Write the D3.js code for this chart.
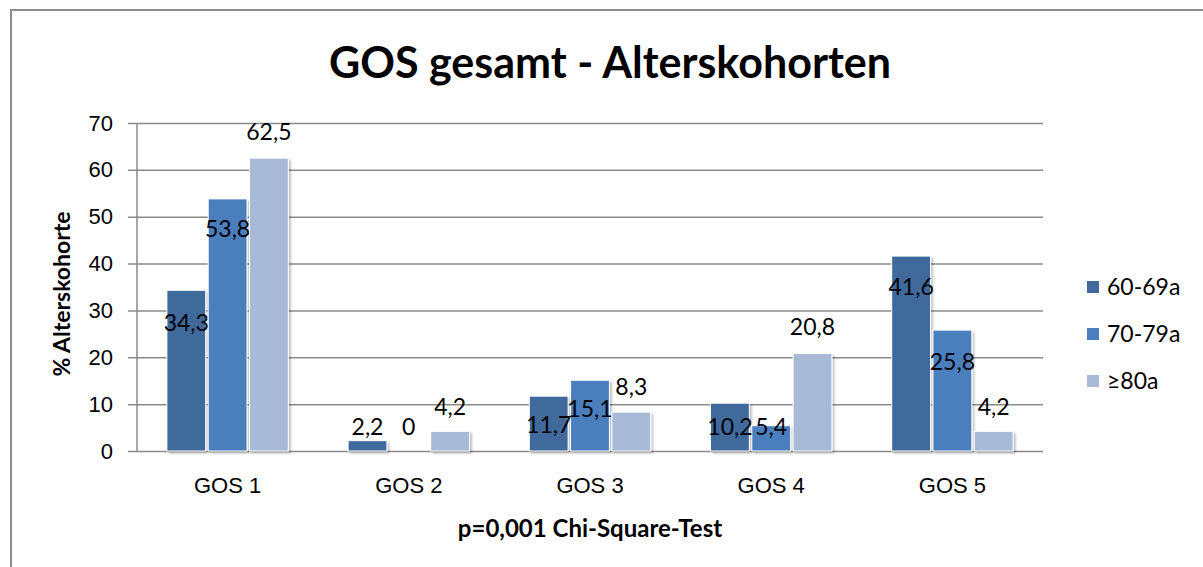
<!DOCTYPE html>
<html>
<head>
<meta charset="utf-8">
<script src="https://cdn.jsdelivr.net/npm/d3@7"></script>
<style>
  html, body { margin: 0; padding: 0; background: #fff; }
  svg { display: block; font-family: Lato, sans-serif; }
</style>
</head>
<body>
<div id="chart"></div>
<script>
var categories = ['GOS 1', 'GOS 2', 'GOS 3', 'GOS 4', 'GOS 5'];
var seriesNames = ['60-69a', '70-79a', '\u226580a'];
var values6069 = [34.3, 2.2, 11.7, 10.2, 41.6];
var values7079 = [53.8, 0, 15.1, 5.4, 25.8];
var values80 = [62.5, 4.2, 8.3, 20.8, 4.2];
var yTicks = [0, 10, 20, 30, 40, 50, 60, 70];

var colors = ['#41699c', '#4b7ebc', '#a9bad9'];
// label offset from bar top in px (negative = above the bar)
var labelDy = [
  [32, -14, 29, 24, 31],
  [30, -24, 28, 1, 32],
  [-26, -25, -25, -27, -25]
];

var W = 1203, H = 567;
var plot = { left: 137, right: 1043, top: 123, bottom: 451 };

drawChart();

function drawChart() {
  var series = [values6069, values7079, values80];

  var svg = d3.select('#chart')
    .append('svg')
    .attr('width', W)
    .attr('height', H);

  // bar shadow
  var filter = svg.append('defs')
    .append('filter')
    .attr('id', 'shadow')
    .attr('x', '-20%').attr('y', '-20%')
    .attr('width', '150%').attr('height', '150%');
  filter.append('feGaussianBlur')
    .attr('in', 'SourceAlpha')
    .attr('stdDeviation', 1.2)
    .attr('result', 'blur');
  filter.append('feOffset')
    .attr('in', 'blur')
    .attr('dx', 1.5)
    .attr('dy', 1.5)
    .attr('result', 'offsetBlur');
  filter.append('feComponentTransfer')
    .attr('in', 'offsetBlur')
    .attr('result', 'fadeBlur')
    .append('feFuncA')
    .attr('type', 'linear')
    .attr('slope', 0.25);
  var feMerge = filter.append('feMerge');
  feMerge.append('feMergeNode').attr('in', 'fadeBlur');
  feMerge.append('feMergeNode').attr('in', 'SourceGraphic');

  // outer frame
  svg.append('rect')
    .attr('x', 11)
    .attr('y', 10)
    .attr('width', W)
    .attr('height', H)
    .style('fill', 'none')
    .style('stroke', '#8c8c8c')
    .style('stroke-width', 2);

  var x0 = d3.scaleBand()
    .domain(categories)
    .range([plot.left, plot.right])
    .paddingInner(0.33)
    .paddingOuter(0.165);

  var x1 = d3.scaleBand()
    .domain(d3.range(seriesNames.length))
    .range([0, x0.bandwidth()])
    .paddingInner(0.06);

  var y = d3.scaleLinear()
    .domain([0, 70])
    .range([plot.bottom, plot.top]);

  // gridlines + y axis
  var yAxis = d3.axisLeft(y)
    .tickValues(yTicks)
    .tickSize(-(plot.right - plot.left))
    .tickPadding(24)
    .tickFormat(d3.format('d'));

  var gy = svg.append('g')
    .attr('transform', 'translate(' + plot.left + ',0)')
    .call(yAxis);
  gy.select('.domain').remove();
  gy.selectAll('.tick line')
    .attr('x1', -9)
    .style('stroke', '#8a8a8a')
    .style('stroke-width', 1.5);
  gy.selectAll('.tick text')
    .style('font-size', '22px')
    .style('fill', '#000');

  svg.append('line')
    .attr('x1', plot.left).attr('x2', plot.left)
    .attr('y1', plot.top).attr('y2', plot.bottom)
    .style('stroke', '#8a8a8a')
    .style('stroke-width', 1.5);

  // x axis labels
  var gx = svg.append('g')
    .attr('transform', 'translate(0,' + plot.bottom + ')')
    .call(d3.axisBottom(x0).tickSize(0).tickPadding(26));
  gx.select('.domain').remove();
  gx.selectAll('.tick text')
    .style('font-size', '22px')
    .style('fill', '#000');

  // bars
  var groups = svg.selectAll('.group')
    .data(categories)
    .enter()
    .append('g')
    .attr('class', 'group')
    .attr('transform', function (d) { return 'translate(' + x0(d) + ',0)'; });

  groups.selectAll('rect')
    .data(function (d, i) {
      return series.map(function (s, k) { return { k: k, i: i, v: s[i] }; });
    })
    .enter()
    .append('rect')
    .attr('x', function (d) { return x1(d.k); })
    .attr('width', x1.bandwidth())
    .attr('y', function (d) { return y(d.v); })
    .attr('height', function (d) { return y(0) - y(d.v); })
    .style('fill', function (d) { return colors[d.k]; })
    .style('stroke', '#fff')
    .style('stroke-width', 1)
    .attr('filter', 'url(#shadow)');

  // data labels
  groups.selectAll('text')
    .data(function (d, i) {
      return series.map(function (s, k) { return { k: k, i: i, v: s[i] }; });
    })
    .enter()
    .append('text')
    .attr('x', function (d) { return x1(d.k) + x1.bandwidth() / 2; })
    .attr('y', function (d) { return y(d.v) + labelDy[d.k][d.i]; })
    .attr('dy', '0.36em')
    .attr('text-anchor', 'middle')
    .style('font-size', '23px')
    .style('fill', '#000')
    .text(function (d) { return String(d.v).replace('.', ','); });

  // titles
  svg.append('text')
    .attr('x', 610)
    .attr('y', 78)
    .attr('text-anchor', 'middle')
    .style('font-size', '43px')
    .style('font-weight', 'bold')
    .text('GOS gesamt - Alterskohorten');

  svg.append('text')
    .attr('transform', 'translate(70,294) rotate(-90)')
    .attr('text-anchor', 'middle')
    .style('font-size', '23px')
    .style('font-weight', 'bold')
    .text('% Alterskohorte');

  svg.append('text')
    .attr('x', (plot.left + plot.right) / 2)
    .attr('y', 537)
    .attr('text-anchor', 'middle')
    .style('font-size', '24px')
    .style('font-weight', 'bold')
    .text('p=0,001 Chi-Square-Test');

  // legend
  var legend = svg.selectAll('.legend')
    .data(seriesNames)
    .enter()
    .append('g')
    .attr('class', 'legend')
    .attr('transform', function (d, i) { return 'translate(1087,' + (287 + i * 47) + ')'; });
  legend.append('rect')
    .attr('x', 0)
    .attr('y', -6)
    .attr('width', 12)
    .attr('height', 12)
    .style('fill', function (d, i) { return colors[i]; });
  legend.append('text')
    .attr('x', 20)
    .attr('dy', '0.36em')
    .style('font-size', '23px')
    .text(function (d) { return d; });
}
</script>
</body>
</html>
